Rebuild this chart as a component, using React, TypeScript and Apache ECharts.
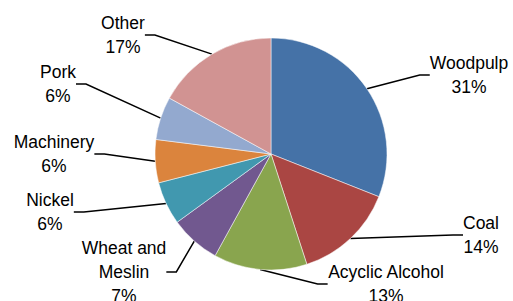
import React, { useEffect, useRef } from "react";
import * as echarts from "echarts";

const categories = ["Woodpulp", "Coal", "Acyclic Alcohol", "Wheat and\nMeslin", "Nickel", "Machinery", "Pork", "Other"];
const values = [31, 14, 13, 7, 6, 6, 6, 17];
const colors = ["#4572A7", "#AA4643", "#89A54E", "#71588F", "#4198AF", "#DB843D", "#93A9CF", "#D19392"];
// label block: centre x, first line centre y (layout only)
const labelPos: [number, number][] = [
  [469, 63], [481, 223], [386, 272], [124, 248], [50, 200], [54, 142], [58, 72], [123, 23],
];
const LH = 24;

export default function App() {
  const ref = useRef<HTMLDivElement>(null);
  useEffect(() => {
    if (!ref.current) return;
    const chart = echarts.init(ref.current, null, { renderer: "svg" });
    chart.setOption({
      animation: false,
      backgroundColor: "#ffffff",
      series: [
        {
          type: "pie",
          center: [271, 154],
          radius: 116,
          startAngle: 90,
          clockwise: true,
          data: categories.map((c, i) => ({ name: c, value: values[i], itemStyle: { color: colors[i] } })),
          itemStyle: { borderColor: "#ffffff", borderWidth: 0.5 },
          label: {
            show: true,
            formatter: "{b}\n{d}%",
            color: "#000000",
            fontFamily: "Liberation Sans",
            fontSize: 17.5,
            lineHeight: LH,
            align: "center",
          },
          labelLine: { show: true, length: 10, length2: 10, lineStyle: { color: "#000000", width: 1.5 } },
          labelLayout: (p: any) => {
            const pos = labelPos[p.dataIndex];
            return { x: pos[0], y: pos[1] - LH / 2, align: "center", verticalAlign: "top" };
          },
        },
      ],
    });
    return () => chart.dispose();
  }, []);
  return <div ref={ref} style={{ width: 513, height: 301, position: "absolute", left: 0, top: 0 }} />;
}
